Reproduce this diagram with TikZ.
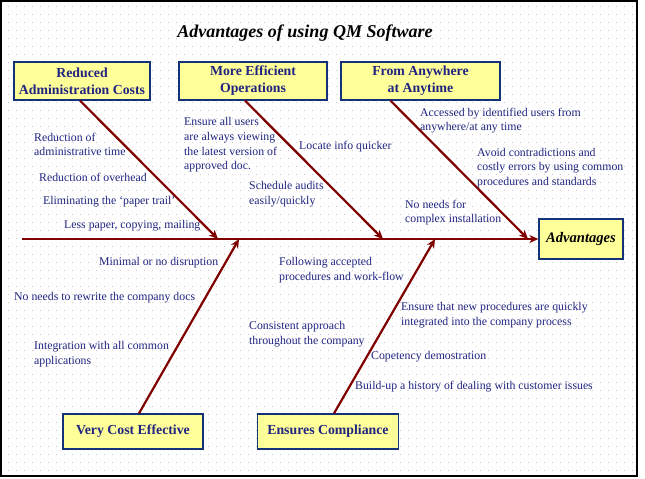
\documentclass[tikz,border=0pt]{standalone}
\usepackage{fontspec}
\setmainfont{Liberation Serif}
\usetikzlibrary{arrows.meta,patterns.meta}
\definecolor{txtblue}{RGB}{32,36,128}
\definecolor{boxfill}{RGB}{255,255,153}
\definecolor{boxline}{RGB}{20,50,120}
\definecolor{bonered}{RGB}{128,0,0}
\definecolor{dotgray}{RGB}{200,200,200}
\tikzdeclarepattern{
  name=gdots,
  type=uncolored,
  bounding box={(0pt,0pt) and (8pt,8pt)},
  tile size={(8pt,8pt)},
  code={
    \fill (0pt,0pt) rectangle (1pt,1pt);
    \fill (4pt,4pt) rectangle (5pt,5pt);
  }
}
\begin{document}
\begin{tikzpicture}[x=1pt,y=-1pt,
  lbl/.style={inner sep=0pt, anchor=west, align=left, text=txtblue, font=\fontsize{11.8}{14.7}\selectfont},
  cat/.style={draw=boxline, line width=1.3pt, fill=boxfill, text=txtblue, font=\fontsize{13.8}{17}\selectfont\bfseries, align=center, inner sep=0pt},
  bonearrow/.style={draw=bonered, line width=2.2pt, -{Stealth[length=9pt,width=8pt]}}
]
\useasboundingbox (0,0) rectangle (645,479);
\fill[white] (0,0) rectangle (645,479);
\fill[pattern=gdots, pattern color=dotgray] (1,1) rectangle (637,476);
\draw[black, line width=2pt] (1,1) rectangle (637,476);

% title
\node[inner sep=0pt, font=\fontsize{18}{21}\selectfont\bfseries\itshape] (title) at (305,33) {Advantages of using QM Software};

% category boxes
\node[cat, minimum width=136pt, minimum height=38pt] (b1) at (82,81) {Reduced\\Administration Costs};
\node[cat, minimum width=148pt, minimum height=38pt] (b2) at (253,81) {More Efficient\\Operations};
\node[cat, minimum width=159pt, minimum height=38pt] (b3) at (420.5,81) {From Anywhere\\at Anytime};
\node[cat, minimum width=140pt, minimum height=35pt] (b4) at (133,431.5) {Very Cost Effective};
\node[cat, minimum width=141pt, minimum height=35pt] (b5) at (328,431.5) {Ensures Compliance};
\node[cat, minimum width=84pt, minimum height=40pt, text=black, font=\fontsize{14.6}{17}\selectfont\bfseries\itshape] (adv) at (581,239) {Advantages};

% spine
\coordinate (tail) at (22,239);
\coordinate (t1) at (218,239);
\coordinate (t2) at (383,239);
\coordinate (t3) at (528,239);
\coordinate (t4) at (239,239);
\coordinate (t5) at (435,239);
\draw[bonearrow] (tail) -- (adv.west);
\draw[bonearrow] ([xshift=-2pt]b1.south) -- (t1);
\draw[bonearrow] ([xshift=-8pt]b2.south) -- (t2);
\draw[bonearrow] ([xshift=-30pt]b3.south) -- (t3);
\draw[bonearrow] ([xshift=6pt]b4.north) -- (t4);
\draw[bonearrow] ([xshift=6pt]b5.north) -- (t5);

% labels upper left
\node[lbl] (l1) at (34,144.5) {Reduction of\\administrative time};
\node[lbl] (l2) at (39,177) {Reduction of overhead};
\node[lbl] (l3) at (43,202) {Eliminating the ‘paper trail’};
\node[lbl] (l4) at (64,226) {Less paper, copying, mailing};
% upper middle
\node[lbl] (m1) at (184,145) {Ensure all users\\are always viewing\\the latest version of\\approved doc.};
\node[lbl] (m2) at (299,147) {Locate info quicker};
\node[lbl] (m3) at (249,194.5) {Schedule audits\\easily/quickly};
% upper right
\node[lbl] (r1) at (420,120.5) {Accessed by identified users from\\anywhere/at any time};
\node[lbl] (r2) at (477,168) {Avoid contradictions and\\costly errors by using common\\procedures and standards};
\node[lbl] (r3) at (405,212.5) {No needs for\\complex installation};
% lower left
\node[lbl] (c1) at (99,263) {Minimal or no disruption};
\node[lbl] (c2) at (14,298) {No needs to rewrite the company docs};
\node[lbl] (c3) at (34,354.5) {Integration with all common\\applications};
% lower right
\node[lbl] (e1) at (279,270.5) {Following accepted\\procedures and work-flow};
\node[lbl] (e2) at (401,315) {Ensure that new procedures are quickly\\integrated into the company process};
\node[lbl] (e3) at (249,334.5) {Consistent approach\\throughout the company};
\node[lbl] (e4) at (371,357) {Copetency demostration};
\node[lbl] (e5) at (355,387) {Build-up a history of dealing with customer issues};
\end{tikzpicture}
\end{document}
